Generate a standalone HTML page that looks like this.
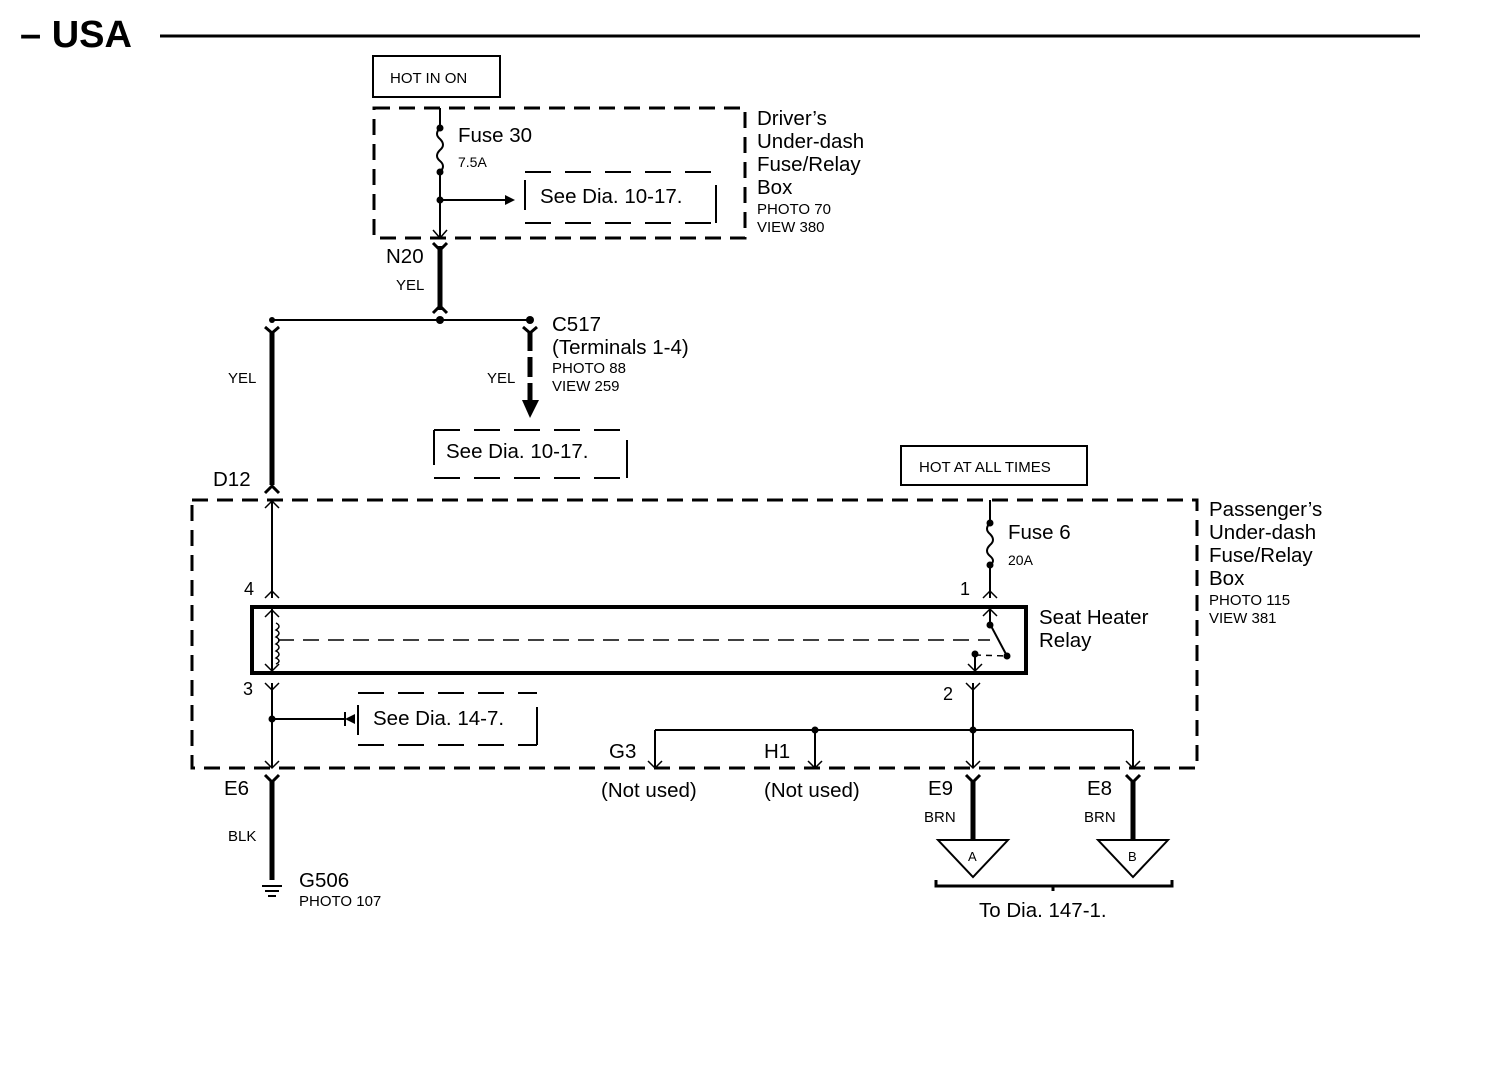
<!DOCTYPE html>
<html><head><style>body{margin:0;background:#fff}svg{display:block}text{font-family:"Liberation Sans",sans-serif;fill:#000}</style></head><body>
<svg width="1504" height="1082" viewBox="0 0 1504 1082" xmlns="http://www.w3.org/2000/svg">
<text x="20" y="47" font-size="38" font-weight="bold">– USA</text>
<line x1="160" y1="36" x2="1420" y2="36" stroke="#000" stroke-width="3"/>
<g fill="none" stroke="#000">
<rect x="373" y="56" width="127" height="41" stroke-width="2"/>
<rect x="374" y="108" width="371" height="130" stroke-width="3" stroke-dasharray="16,9"/>
<line x1="440" y1="108" x2="440" y2="128" stroke-width="2"/>
<path d="M440,128 q-6,6 0,11 q6,6 0,11 q-6,6 0,11 q6,5 0,11" stroke-width="2"/>
<line x1="440" y1="172" x2="440" y2="238" stroke-width="2"/>
<path d="M433,230 L440,238 L447,230" stroke-width="1.5"/>
<line x1="440" y1="200" x2="505" y2="200" stroke-width="2"/>
<line x1="525" y1="180" x2="525" y2="210" stroke-width="2"/>
<line x1="525" y1="172" x2="716" y2="172" stroke-width="2" stroke-dasharray="26,14"/>
<line x1="525" y1="223" x2="716" y2="223" stroke-width="2" stroke-dasharray="26,14"/>
<line x1="716" y1="185" x2="716" y2="223" stroke-width="2"/>
<line x1="440" y1="246" x2="440" y2="310" stroke-width="5"/>
<path d="M433,243 L440,250 L447,243" stroke-width="3"/>
<path d="M433,313 L440,306 L447,313" stroke-width="3"/>
<line x1="272" y1="320" x2="530" y2="320" stroke-width="2"/>
<line x1="272" y1="331" x2="272" y2="485" stroke-width="5"/>
<path d="M265,327 L272,333 L279,327" stroke-width="3"/>
<path d="M265,493 L272,486 L279,493" stroke-width="3"/>
<line x1="530" y1="331" x2="530" y2="405" stroke-width="5" stroke-dasharray="20,6"/>
<path d="M523,327 L530,333 L537,327" stroke-width="3"/>
<line x1="434" y1="430" x2="627" y2="430" stroke-width="2" stroke-dasharray="26,14"/>
<line x1="434" y1="478" x2="627" y2="478" stroke-width="2" stroke-dasharray="26,14"/>
<line x1="434" y1="430" x2="434" y2="465" stroke-width="2"/>
<line x1="627" y1="440" x2="627" y2="478" stroke-width="2"/>
<rect x="901" y="446" width="186" height="39" stroke-width="2"/>
<rect x="192" y="500" width="1005" height="268" stroke-width="3" stroke-dasharray="16,9"/>
<rect x="252" y="607" width="774" height="66" stroke-width="4"/>
<line x1="272" y1="500" x2="272" y2="598" stroke-width="2"/>
<path d="M265,508 L272,501 L279,508" stroke-width="1.5"/>
<path d="M265,598 L272,591 L279,598" stroke-width="1.5"/>
<line x1="272" y1="609" x2="272" y2="671" stroke-width="2"/>
<path d="M265,617 L272,610 L279,617" stroke-width="1.5"/>
<path d="M265,664 L272,671 L279,664" stroke-width="1.5"/>
<path d="M276,623 q6,3 0,7 q6,3 0,7 q6,3 0,7 q6,3 0,7 q6,3 0,7 q6,3 0,6" stroke-width="1.5"/>
<line x1="278" y1="640" x2="990" y2="640" stroke-width="1.5" stroke-dasharray="16,9"/>
<line x1="272" y1="683" x2="272" y2="768" stroke-width="2"/>
<path d="M265,683 L272,690 L279,683" stroke-width="1.5"/>
<path d="M265,761 L272,768 L279,761" stroke-width="1.5"/>
<line x1="272" y1="719" x2="345" y2="719" stroke-width="2"/>
<path d="M345,712 L345,726" stroke-width="2"/>
<line x1="358" y1="693" x2="537" y2="693" stroke-width="2" stroke-dasharray="26,14"/>
<line x1="358" y1="745" x2="537" y2="745" stroke-width="2" stroke-dasharray="26,14"/>
<line x1="358" y1="705" x2="358" y2="735" stroke-width="2"/>
<line x1="537" y1="707" x2="537" y2="745" stroke-width="2"/>
<line x1="990" y1="500" x2="990" y2="523" stroke-width="2"/>
<path d="M990,523 q-6,6 0,11 q6,6 0,11 q-6,6 0,11 q6,5 0,9" stroke-width="2"/>
<line x1="990" y1="565" x2="990" y2="598" stroke-width="2"/>
<path d="M983,598 L990,591 L997,598" stroke-width="1.5"/>
<line x1="990" y1="609" x2="990" y2="624" stroke-width="2"/>
<path d="M983,616 L990,609 L997,616" stroke-width="1.5"/>
<line x1="990" y1="624" x2="1007" y2="656" stroke-width="2"/>
<path d="M975,655 L1007,656" stroke-width="1.5" stroke-dasharray="6,5"/>
<line x1="975" y1="655" x2="975" y2="671" stroke-width="2"/>
<path d="M968,664 L975,671 L982,664" stroke-width="1.5"/>
<line x1="973" y1="683" x2="973" y2="768" stroke-width="2"/>
<path d="M966,683 L973,690 L980,683" stroke-width="1.5"/>
<line x1="655" y1="730" x2="1133" y2="730" stroke-width="2"/>
<line x1="655" y1="730" x2="655" y2="768" stroke-width="2"/>
<line x1="815" y1="730" x2="815" y2="768" stroke-width="2"/>
<line x1="1133" y1="730" x2="1133" y2="768" stroke-width="2"/>
<path d="M648,761 L655,768 L662,761 M808,761 L815,768 L822,761 M966,761 L973,768 L980,761 M1126,761 L1133,768 L1140,761" stroke-width="1.5"/>
<line x1="272" y1="780" x2="272" y2="880" stroke-width="5"/>
<path d="M265,775 L272,782 L279,775" stroke-width="3"/>
<line x1="973" y1="780" x2="973" y2="840" stroke-width="5"/>
<path d="M966,775 L973,782 L980,775" stroke-width="3"/>
<line x1="1133" y1="780" x2="1133" y2="840" stroke-width="5"/>
<path d="M1126,775 L1133,782 L1140,775" stroke-width="3"/>
<path d="M938,840 L1008,840 L973,877 Z" stroke-width="2"/>
<path d="M1098,840 L1168,840 L1133,877 Z" stroke-width="2"/>
<path d="M936,880 L936,886 L1172,886 L1172,880 M1053,886 L1053,891" stroke-width="3"/>
<path d="M262,886 L282,886 M265,891 L279,891 M268,896 L276,896" stroke-width="2"/>
</g>
<path d="M505,195 L515,200 L505,205 Z"/>
<path d="M522,400 L539,400 L530,418 Z"/>
<path d="M345,719 L355,714 L355,724 Z"/>
<g fill="#000">
<circle cx="440" cy="128" r="3.5"/><circle cx="440" cy="172" r="3.5"/><circle cx="440" cy="200" r="3.5"/>
<circle cx="440" cy="320" r="4"/><circle cx="530" cy="320" r="4"/><circle cx="272" cy="320" r="3"/>
<circle cx="272" cy="719" r="3.5"/><circle cx="990" cy="523" r="3.5"/><circle cx="990" cy="565" r="3.5"/>
<circle cx="990" cy="625" r="3.5"/><circle cx="1007" cy="656" r="3.5"/><circle cx="975" cy="654" r="3.5"/>
<circle cx="815" cy="730" r="3.5"/><circle cx="973" cy="730" r="3.5"/>
</g>
<text x="390" y="83" font-size="15">HOT IN ON</text>
<text x="458" y="142" font-size="20.5">Fuse 30</text>
<text x="458" y="167" font-size="14">7.5A</text>
<text x="540" y="203" font-size="20.5">See Dia. 10-17.</text>
<g font-size="20.5"><text x="757" y="125">Driver’s</text><text x="757" y="148">Under-dash</text><text x="757" y="171">Fuse/Relay</text><text x="757" y="194">Box</text></g>
<text x="757" y="214" font-size="15">PHOTO 70</text><text x="757" y="232" font-size="15">VIEW 380</text>
<text x="386" y="263" font-size="20.5">N20</text>
<text x="396" y="290" font-size="15">YEL</text>
<text x="552" y="331" font-size="20.5">C517</text>
<text x="552" y="354" font-size="20.5">(Terminals 1-4)</text>
<text x="552" y="373" font-size="15">PHOTO 88</text><text x="552" y="391" font-size="15">VIEW 259</text>
<text x="228" y="383" font-size="15">YEL</text>
<text x="487" y="383" font-size="15">YEL</text>
<text x="446" y="458" font-size="20.5">See Dia. 10-17.</text>
<text x="919" y="472" font-size="15">HOT AT ALL TIMES</text>
<text x="213" y="486" font-size="20.5">D12</text>
<g font-size="20.5"><text x="1209" y="516">Passenger’s</text><text x="1209" y="539">Under-dash</text><text x="1209" y="562">Fuse/Relay</text><text x="1209" y="585">Box</text></g>
<text x="1209" y="605" font-size="15">PHOTO 115</text><text x="1209" y="623" font-size="15">VIEW 381</text>
<text x="1008" y="539" font-size="20.5">Fuse 6</text>
<text x="1008" y="565" font-size="14">20A</text>
<text x="244" y="595" font-size="18">4</text>
<text x="960" y="595" font-size="18">1</text>
<text x="1039" y="624" font-size="20.5">Seat Heater</text><text x="1039" y="647" font-size="20.5">Relay</text>
<text x="243" y="695" font-size="18">3</text>
<text x="943" y="700" font-size="18">2</text>
<text x="373" y="725" font-size="20.5">See Dia. 14-7.</text>
<text x="609" y="758" font-size="20.5">G3</text>
<text x="764" y="758" font-size="20.5">H1</text>
<text x="601" y="797" font-size="20.5">(Not used)</text>
<text x="764" y="797" font-size="20.5">(Not used)</text>
<text x="224" y="795" font-size="20.5">E6</text>
<text x="928" y="795" font-size="20.5">E9</text>
<text x="1087" y="795" font-size="20.5">E8</text>
<text x="228" y="841" font-size="15">BLK</text>
<text x="924" y="822" font-size="15">BRN</text>
<text x="1084" y="822" font-size="15">BRN</text>
<text x="968" y="861" font-size="13">A</text>
<text x="1128" y="861" font-size="13">B</text>
<text x="299" y="887" font-size="20.5">G506</text>
<text x="299" y="906" font-size="15">PHOTO 107</text>
<text x="979" y="917" font-size="20.5">To Dia. 147-1.</text>
</svg>
</body></html>
